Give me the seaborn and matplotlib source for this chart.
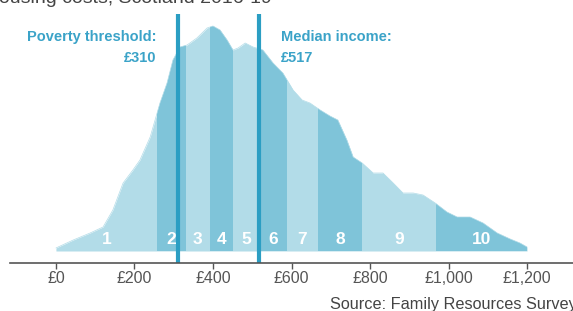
import numpy as np
import pandas as pd
import seaborn as sns
import matplotlib.pyplot as plt
from matplotlib.patches import Polygon

# weekly income (GBP) and relative density of people
income = [0, 44, 87, 120, 145, 171, 196, 214, 240, 265, 283, 298, 316, 334, 359,
          385, 400, 418, 436, 451, 464, 482, 502, 527, 553, 578, 604, 627, 647,
          673, 698, 718, 741, 757, 780, 808, 833, 859, 884, 910, 935, 966, 996,
          1022, 1055, 1088, 1124, 1157, 1182, 1200]
density = [3, 11, 18, 24, 41, 68, 81, 91, 114, 148, 168, 191, 204, 206, 213,
           223, 225, 221, 211, 201, 203, 208, 204, 201, 188, 178, 161, 151, 148,
           141, 135, 131, 111, 94, 88, 78, 78, 68, 58, 58, 56, 48, 39,
           34, 34, 28, 18, 12, 8, 4]

# decile boundaries
deciles = ['1', '2', '3', '4', '5', '6', '7', '8', '9', '10']
bounds = [0, 257, 331, 392, 451, 517, 588, 668, 780, 968, 1200]

poverty_threshold = 310
median_income = 517
ticks = [0, 200, 400, 600, 800, 1000, 1200]
tick_labels = ['£0', '£200', '£400', '£600', '£800', '£1,000', '£1,200']

light = '#b2dce8'
dark = '#7fc4d9'
line_col = '#2b9ec3'
text_col = '#3ba3c8'

df = pd.DataFrame({'income': income, 'density': density})

sns.set_style('white')
plt.rcParams['font.family'] = ['Liberation Sans', 'DejaVu Sans']

fig = plt.figure(figsize=(5.73, 3.11), dpi=100)
ax = fig.add_axes([10 / 573, (311 - 263) / 311, 1 - 10 / 573, 249 / 311])

# whole area in the light colour
sns.lineplot(data=df, x='income', y='density', ax=ax, color=light, linewidth=0.5)
ax.fill_between(df['income'], 0, df['density'], color=light, linewidth=0)

# dark bands for every second decile, clipped to the area
verts = list(zip(income, density)) + [(income[-1], 0), (income[0], 0)]
clip = Polygon(verts, closed=True, transform=ax.transData, facecolor='none', edgecolor='none')
ax.add_patch(clip)
for i, lab in enumerate(deciles):
    lo, hi = bounds[i], bounds[i + 1]
    if i % 2 == 1:
        band = ax.axvspan(lo, hi, ymin=0, ymax=1, color=dark, linewidth=0)
        band.set_clip_path(clip)
    ax.text((lo + hi) / 2, 11, lab, ha='center', va='center', color='white',
            fontsize=12.5, fontweight='bold')

# threshold lines
ax.axvline(poverty_threshold, color=line_col, linewidth=3)
ax.axvline(median_income, color=line_col, linewidth=3)

ax.text(257, 214, 'Poverty threshold:', ha='right', va='center', color=text_col,
        fontsize=10.5, fontweight='bold')
ax.text(257, 193, '£%d' % poverty_threshold, ha='right', va='center', color=text_col,
        fontsize=10.5, fontweight='bold')
ax.text(574, 214, 'Median income:', ha='left', va='center', color=text_col,
        fontsize=10.5, fontweight='bold')
ax.text(574, 193, '£%d' % median_income, ha='left', va='center', color=text_col,
        fontsize=10.5, fontweight='bold')

ax.set_xlim(-117, 1317)
ax.set_ylim(-12, 237)
ax.set_xticks(ticks)
ax.set_xticklabels(tick_labels, fontsize=11.5, color='#555555')
ax.set_yticks([])
ax.set_xlabel('')
ax.set_ylabel('')
ax.tick_params(axis='x', length=4, width=1, color='#555555', bottom=True, pad=2)
for side in ['top', 'left', 'right']:
    ax.spines[side].set_visible(False)
ax.spines['bottom'].set_color('#555555')
ax.spines['bottom'].set_linewidth(1.2)

fig.text(272 / 573, 1 - 3 / 311, 'housing costs, Scotland 2016-19', ha='right',
         va='baseline', fontsize=14, color='#444444')
fig.text(330 / 573, 1 - 305 / 311, 'Source: Family Resources Survey', ha='left',
         va='center', fontsize=11.7, color='#444444')

fig.savefig('out.png', dpi=100)
